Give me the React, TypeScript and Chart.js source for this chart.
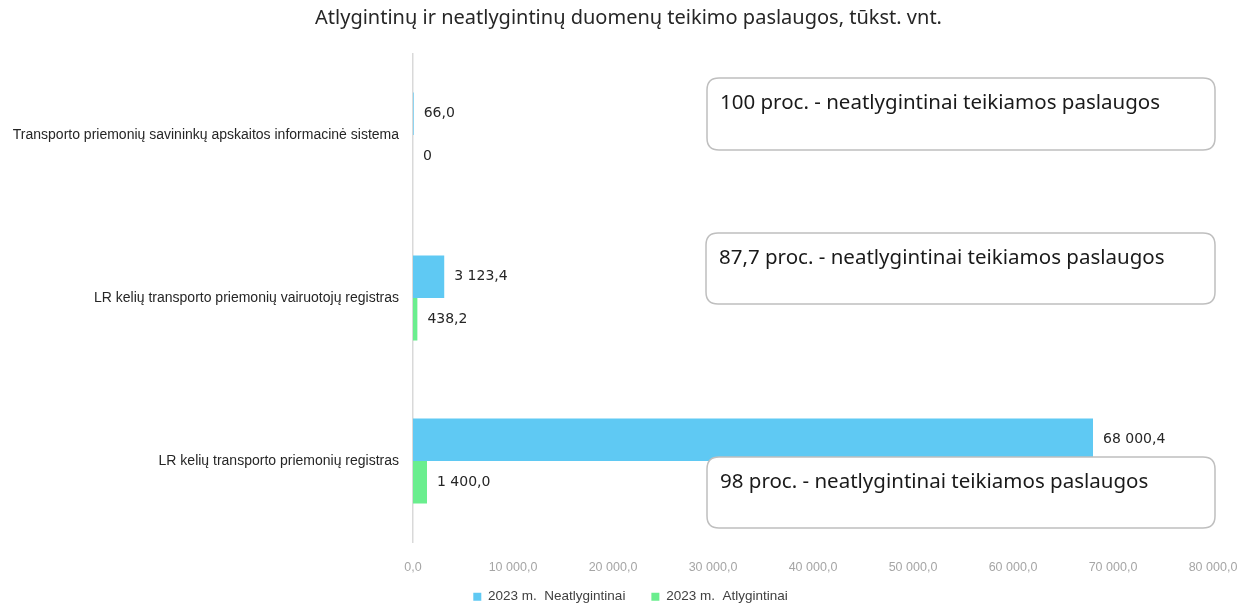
import React, { useEffect, useRef } from 'react';
import { Chart, registerables } from 'chart.js';

Chart.register(...registerables);

const TITLE = 'Atlygintinų ir neatlygintinų duomenų teikimo paslaugos, tūkst. vnt.';
const categories = [
  'Transporto priemonių savininkų apskaitos informacinė sistema',
  'LR kelių transporto priemonių vairuotojų registras',
  'LR kelių transporto priemonių registras',
];
const seriesNames = ['2023 m.  Neatlygintinai', '2023 m.  Atlygintinai'];
const neatlygintinai = [66.0, 3123.4, 68000.4];
const atlygintinai = [0, 438.2, 1400.0];
const xMin = 0;
const xMax = 80000;
const xStep = 10000;
const notes = [
  '100 proc. - neatlygintinai teikiamos paslaugos',
  '87,7 proc. - neatlygintinai teikiamos paslaugos',
  '98 proc. - neatlygintinai teikiamos paslaugos',
];

// annotation box placement (value-axis start, pixel offsets from category centre)
const noteBoxes = [
  { xFrom: 29400, top: -57, bottom: 15 },
  { xFrom: 29300, top: -65, bottom: 6 },
  { xFrom: 29400, top: -4, bottom: 67 },
];

const BLUE = '#5FC9F3';
const GREEN = '#6AEE8E';

function fmt(v: number, forceDecimal = false): string {
  if (v === 0 && !forceDecimal) return '0';
  const [i, d] = v.toFixed(1).split('.');
  return i.replace(/\B(?=(\d{3})+(?!\d))/g, ' ') + ',' + d;
}

const valueLabels = {
  id: 'valueLabels',
  afterDatasetsDraw(chart: any) {
    const ctx = chart.ctx;
    ctx.save();
    ctx.font = '14px "DejaVu Sans"';
    ctx.fillStyle = '#262626';
    ctx.textBaseline = 'middle';
    ctx.textAlign = 'left';
    chart.data.datasets.forEach((ds: any, di: number) => {
      const meta = chart.getDatasetMeta(di);
      meta.data.forEach((el: any, i: number) => {
        ctx.fillText(fmt(ds.data[i]), el.x + 10, el.y);
      });
    });
    ctx.restore();
  },
};

function roundRect(ctx: CanvasRenderingContext2D, x: number, y: number, w: number, h: number, r: number) {
  ctx.beginPath();
  ctx.moveTo(x + r, y);
  ctx.lineTo(x + w - r, y);
  ctx.quadraticCurveTo(x + w, y, x + w, y + r);
  ctx.lineTo(x + w, y + h - r);
  ctx.quadraticCurveTo(x + w, y + h, x + w - r, y + h);
  ctx.lineTo(x + r, y + h);
  ctx.quadraticCurveTo(x, y + h, x, y + h - r);
  ctx.lineTo(x, y + r);
  ctx.quadraticCurveTo(x, y, x + r, y);
  ctx.closePath();
}

const noteBoxPlugin = {
  id: 'noteBoxes',
  afterDraw(chart: any) {
    const ctx = chart.ctx;
    const xs = chart.scales.x;
    const ys = chart.scales.y;
    ctx.save();
    notes.forEach((text, i) => {
      const b = noteBoxes[i];
      const cy = ys.getPixelForValue(i);
      const left = xs.getPixelForValue(b.xFrom);
      const right = xs.getPixelForValue(xMax) + 2;
      const top = cy + b.top;
      const bottom = cy + b.bottom;
      roundRect(ctx, left, top, right - left, bottom - top, 12);
      ctx.fillStyle = '#FFFFFF';
      ctx.fill();
      ctx.lineWidth = 1.5;
      ctx.strokeStyle = '#BFBFBF';
      ctx.stroke();
      ctx.fillStyle = '#1A1A1A';
      ctx.font = '20.5px "Noto Sans"';
      ctx.textBaseline = 'middle';
      ctx.textAlign = 'left';
      ctx.fillText(text, left + 13, top + 25);
    });
    ctx.restore();
  },
};

// nudge title and legend so they are centred like the reference
const blockShift = {
  id: 'blockShift',
  afterLayout(chart: any) {
    const t = chart.titleBlock;
    if (t) { t.left += 22; t.right += 22; }
    const l = chart.legend;
    if (l) { l.left += 24; l.right += 24; l.top -= 16; l.bottom -= 16; }
  },
};

export default function App() {
  const ref = useRef<HTMLCanvasElement>(null);
  useEffect(() => {
    if (!ref.current) return;
    const chart = new Chart(ref.current, {
      type: 'bar',
      data: {
        labels: categories,
        datasets: [
          { label: seriesNames[0], data: neatlygintinai, backgroundColor: BLUE, borderWidth: 0 },
          { label: seriesNames[1], data: atlygintinai, backgroundColor: GREEN, borderWidth: 0 },
        ],
      },
      options: {
        indexAxis: 'y',
        animation: false,
        responsive: true,
        maintainAspectRatio: false,
        datasets: { bar: { categoryPercentage: 0.52, barPercentage: 1.0 } },
        layout: { padding: { left: 0, right: 37, top: 0, bottom: -22.5 } },
        scales: {
          x: {
            type: 'linear',
            min: xMin,
            max: xMax,
            grid: { display: false, drawTicks: true, tickLength: 15 },
            border: { display: false },
            ticks: {
              stepSize: xStep,
              padding: 3,
              color: '#A6A6A6',
              font: { family: '"Liberation Sans"', size: 12.5 },
              callback: (v: any) => fmt(Number(v), true),
            },
            afterFit: (s: any) => { s.height = 37.5; },
          },
          y: {
            type: 'category',
            grid: { display: false, drawTicks: false },
            border: { display: true, color: '#D9D9D9', width: 1.5 },
            ticks: {
              padding: 14,
              color: '#262626',
              font: { family: '"Liberation Sans"', size: 14 },
            },
            afterFit: (s: any) => { s.width = 413; },
          },
        },
        plugins: {
          title: {
            display: true,
            text: TITLE,
            color: '#262626',
            font: { family: '"Noto Sans"', size: 20, weight: 'normal' },
            padding: { top: 6, bottom: 23.5 },
          },
          legend: {
            position: 'bottom',
            labels: {
              boxWidth: 8,
              boxHeight: 8,
              padding: 26,
              color: '#404040',
              font: { family: '"Liberation Sans"', size: 13.5 },
            },
          },
          tooltip: { enabled: false },
        },
      },
      plugins: [valueLabels, noteBoxPlugin, blockShift],
    });
    return () => chart.destroy();
  }, []);
  return (
    <div style={{ position: 'absolute', left: 0, top: 0, width: 1250, height: 607 }}>
      <canvas ref={ref} />
    </div>
  );
}
